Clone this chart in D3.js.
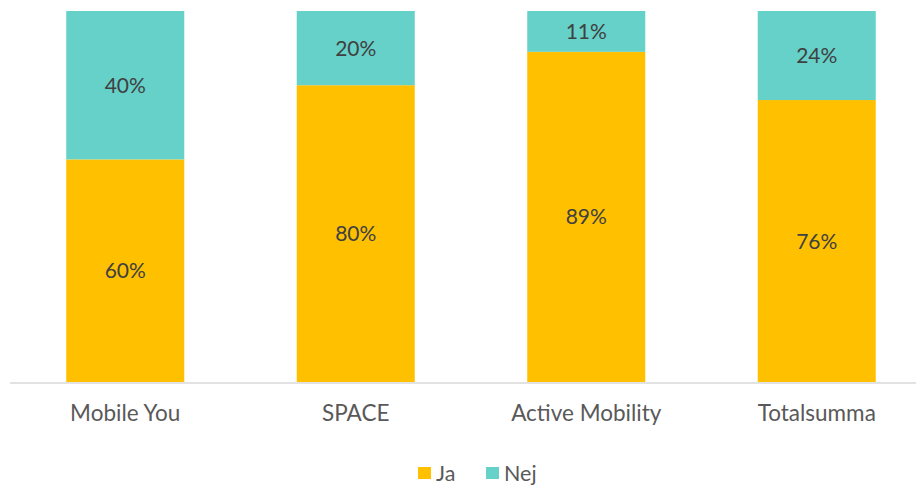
<!DOCTYPE html>
<html>
<head>
	<meta charset="utf-8">
	<title>Ja / Nej</title>
	<style>
	body { margin: 0; background: #fff; }
	.cat { font-family: 'Lato', sans-serif; font-size: 22.5px; fill: #595959; text-anchor: middle; }
	.val { font-family: 'Lato', sans-serif; font-size: 21px; fill: #404040; text-anchor: middle; }
	.leg { font-family: 'Lato', sans-serif; font-size: 21.5px; fill: #595959; }
	</style>
	<script src="https://d3js.org/d3.v7.min.js"></script>
</head>
<body>
	<script type="text/javascript">
		var categories = ['Mobile You', 'SPACE', 'Active Mobility', 'Totalsumma'];
		var ja = [60, 80, 89, 76];
		var nej = [40, 20, 11, 24];
		var seriesNames = ['Ja', 'Nej'];
		var colors = ['#FFC000', '#66D1C9'];

		var width = 916, height = 485;
		var svg = d3.select('body').append('svg')
			.attr('width', width)
			.attr('height', height);

		var rows = categories.map(function (c, i) {
			return { cat: c, Ja: ja[i], Nej: nej[i] };
		});
		var stack = d3.stack().keys(seriesNames)(rows);

		var x = d3.scaleBand().domain(categories).range([10, 932]).paddingInner(0.488).paddingOuter(0.244);
		var y = d3.scaleLinear().domain([0, 100]).range([382, 11]);

		// stacked bars
		var layers = svg.selectAll('g.layer')
			.data(stack)
			.enter()
			.append('g')
			.attr('class', 'layer')
			.attr('fill', function (d, i) { return colors[i]; });

		layers.selectAll('rect')
			.data(function (d) { return d; })
			.enter()
			.append('rect')
			.attr('x', function (d) { return x(d.data.cat); })
			.attr('width', x.bandwidth())
			.attr('y', function (d) { return y(d[1]); })
			.attr('height', function (d) { return y(d[0]) - y(d[1]); });

		// labels in segments
		layers.selectAll('text')
			.data(function (d) { return d; })
			.enter()
			.append('text')
			.attr('class', 'val')
			.attr('x', function (d) { return x(d.data.cat) + x.bandwidth() / 2; })
			.attr('y', function (d) { return (y(d[0]) + y(d[1])) / 2; })
			.attr('dy', '0.36em')
			.text(function (d) { return (d[1] - d[0]) + '%'; });

		// axis line
		svg.append('line')
			.attr('x1', 10).attr('x2', width)
			.attr('y1', y(0) + 1).attr('y2', y(0) + 1)
			.style('stroke', '#d9d9d9')
			.style('stroke-width', 1.5);

		// category labels
		svg.selectAll('text.cat')
			.data(categories)
			.enter()
			.append('text')
			.attr('class', 'cat')
			.attr('x', function (d) { return x(d) + x.bandwidth() / 2; })
			.attr('y', 421)
			.text(function (d) { return d; });

		// legend
		var legendX = [418, 486];
		var leg = svg.selectAll('g.legend')
			.data(seriesNames)
			.enter()
			.append('g')
			.attr('class', 'legend')
			.attr('transform', function (d, i) { return 'translate(' + legendX[i] + ',467)'; });
		leg.append('rect')
			.attr('width', 13).attr('height', 12)
			.attr('fill', function (d, i) { return colors[i]; });
		leg.append('text')
			.attr('class', 'leg')
			.attr('x', 18).attr('y', 13.5)
			.text(function (d) { return d; });
	</script>
</body>
</html>
